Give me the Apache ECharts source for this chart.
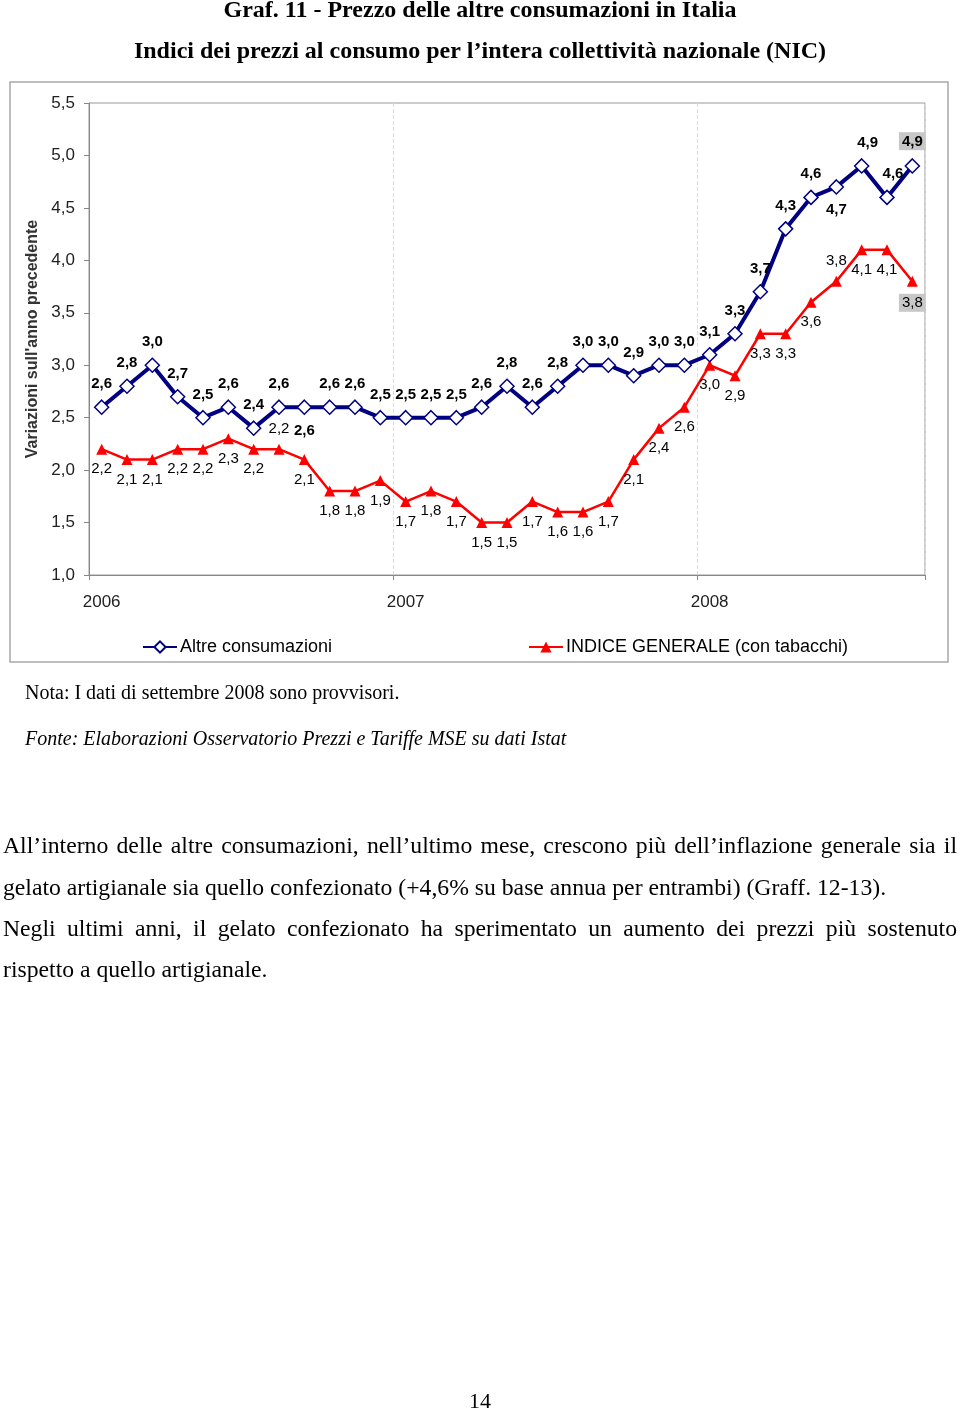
<!DOCTYPE html>
<html><head><meta charset="utf-8">
<script src="https://cdn.jsdelivr.net/npm/echarts@6/dist/echarts.min.js"></script>
<style>
html,body{margin:0;padding:0;background:#fff;}
#chart{position:absolute;left:0;top:0;width:960px;height:1410px;}
.line{position:absolute;left:3px;width:954px;font-family:"Liberation Serif","Times New Roman",serif;font-size:23.7px;color:#000;height:30px;line-height:30px;white-space:nowrap;}
.j{text-align:justify;text-align-last:justify;white-space:normal;}
</style>
</head><body>
<div id="chart"></div>
<div class="line j" style="top:830px">All’interno delle altre consumazioni, nell’ultimo mese, crescono più dell’inflazione generale sia il</div>
<div class="line" style="top:872px">gelato artigianale sia quello confezionato (+4,6% su base annua per entrambi) (Graff. 12-13).</div>
<div class="line j" style="top:913px">Negli ultimi anni, il gelato confezionato ha sperimentato un aumento dei prezzi più sostenuto</div>
<div class="line" style="top:954px">rispetto a quello artigianale.</div>
<script>
const months = ['2006-01','2006-02','2006-03','2006-04','2006-05','2006-06','2006-07','2006-08','2006-09','2006-10','2006-11','2006-12',
  '2007-01','2007-02','2007-03','2007-04','2007-05','2007-06','2007-07','2007-08','2007-09','2007-10','2007-11','2007-12',
  '2008-01','2008-02','2008-03','2008-04','2008-05','2008-06','2008-07','2008-08','2008-09'];
const altreConsumazioni = [2.6,2.8,3.0,2.7,2.5,2.6,2.4,2.6,2.6,2.6,2.6,2.5,2.5,2.5,2.5,2.6,2.8,2.6,2.8,3.0,3.0,2.9,3.0,3.0,3.1,3.3,3.7,4.3,4.6,4.7,4.9,4.6,4.9];
const indiceGenerale = [2.2,2.1,2.1,2.2,2.2,2.3,2.2,2.2,2.1,1.8,1.8,1.9,1.7,1.8,1.7,1.5,1.5,1.7,1.6,1.6,1.7,2.1,2.4,2.6,3.0,2.9,3.3,3.3,3.6,3.8,4.1,4.1,3.8];
const seriesNames = ['Altre consumazioni','INDICE GENERALE (con tabacchi)'];
const yMin = 1.0, yMax = 5.5, yStep = 0.5;

const fmt = v => Number(v).toFixed(1).replace('.', ',');
const blueBelow = [8, 29];
const redAbove = [7, 29];
const last = months.length - 1;

const blueData = altreConsumazioni.map((v, i) => {
  const it = { value: v };
  const lab = {};
  if (blueBelow.includes(i)) lab.position = 'bottom';
  if (i === 30 || i === 31) lab.offset = [6, 0];
  if (i === last) { lab.backgroundColor = '#c8c8c8'; lab.padding = [2, 3, 1, 3]; }
  if (Object.keys(lab).length) it.label = lab;
  return it;
});
const redData = indiceGenerale.map((v, i) => {
  const it = { value: v };
  const lab = {};
  if (redAbove.includes(i)) lab.position = 'top';
  if (i === last) { lab.backgroundColor = '#c8c8c8'; lab.padding = [2, 3, 1, 3]; }
  if (Object.keys(lab).length) it.label = lab;
  return it;
});

const chart = echarts.init(document.getElementById('chart'), null, { renderer: 'canvas' });
const serif = '"Liberation Serif","Times New Roman",serif';
const sans = '"Liberation Sans",Arial,sans-serif';
chart.setOption({
  animation: false,
  backgroundColor: '#fff',
  title: [
    { text: 'Graf. 11 - Prezzo delle altre consumazioni in Italia', left: 'center', top: -6,
      textStyle: { fontFamily: serif, fontWeight: 'bold', fontSize: 24, color: '#000' } },
    { text: 'Indici dei prezzi al consumo per l’intera collettività nazionale (NIC)', left: 'center', top: 35,
      textStyle: { fontFamily: serif, fontWeight: 'bold', fontSize: 24, color: '#000' } },
    { text: 'Nota: I dati di settembre 2008 sono provvisori.', left: 20, top: 679,
      textStyle: { fontFamily: serif, fontWeight: 'normal', fontSize: 20, color: '#000' } },
    { text: 'Fonte: Elaborazioni Osservatorio Prezzi e Tariffe MSE su dati Istat', left: 20, top: 725,
      textStyle: { fontFamily: serif, fontWeight: 'normal', fontStyle: 'italic', fontSize: 20, color: '#000' } },
    { text: '14', left: 'center', top: 1386,
      textStyle: { fontFamily: serif, fontWeight: 'normal', fontSize: 22, color: '#000' } }
  ],
  graphic: [
    { type: 'rect', shape: { x: 10, y: 82, width: 938, height: 580 },
      style: { fill: 'none', stroke: '#a8a8a8', lineWidth: 1.5 }, z: -1 }
  ],
  legend: [
    { data: [seriesNames[0]], left: 142, top: 638, padding: 0, itemWidth: 34, itemHeight: 14, itemGap: 4,
      textStyle: { fontFamily: sans, fontSize: 18, color: '#000', padding: [0, 0, 0, -2] } },
    { data: [seriesNames[1]], left: 528, top: 638, padding: 0, itemWidth: 34, itemHeight: 14, itemGap: 4,
      textStyle: { fontFamily: sans, fontSize: 18, color: '#000', padding: [0, 0, 0, -2] } }
  ],
  grid: { left: 89, right: 35, top: 103, bottom: 835, show: true, borderColor: '#999', borderWidth: 1 },
  xAxis: {
    type: 'category', data: months, boundaryGap: true,
    axisLine: { lineStyle: { color: '#888', width: 1 } },
    axisTick: { show: true, interval: 11, length: 5, lineStyle: { color: '#888' } },
    splitLine: { show: true, interval: 11, lineStyle: { color: '#ddd', type: 'dashed' } },
    axisLabel: { interval: 11, margin: 19, fontFamily: sans, fontSize: 17, color: '#222',
      formatter: v => v.slice(0, 4) }
  },
  yAxis: {
    type: 'value', min: yMin, max: yMax, interval: yStep,
    name: "Variazioni sull'anno precedente", nameLocation: 'middle', nameGap: 47, nameRotate: 90,
    nameTextStyle: { fontFamily: sans, fontSize: 16, fontWeight: 'bold', color: '#333' },
    axisLine: { show: true, lineStyle: { color: '#888' } },
    axisTick: { show: true, length: 5, lineStyle: { color: '#888' } },
    splitLine: { show: false },
    axisLabel: { margin: 14, fontFamily: sans, fontSize: 17, color: '#222', formatter: v => fmt(v) }
  },
  series: [
    { name: seriesNames[0], type: 'line', data: blueData, z: 3,
      symbol: 'diamond', symbolSize: 14,
      lineStyle: { color: '#000080', width: 4 },
      itemStyle: { color: '#fff', borderColor: '#000080', borderWidth: 1.5 },
      label: { show: true, position: 'top', distance: 8, formatter: p => fmt(p.value),
        fontFamily: sans, fontSize: 15, fontWeight: 'bold', color: '#000' } },
    { name: seriesNames[1], type: 'line', data: redData, z: 2,
      symbol: 'triangle', symbolSize: 11,
      lineStyle: { color: '#ff0000', width: 2.5 },
      itemStyle: { color: '#ff0000', borderColor: '#ff0000', borderWidth: 0 },
      label: { show: true, position: 'bottom', distance: 7, formatter: p => fmt(p.value),
        fontFamily: sans, fontSize: 15, fontWeight: 'normal', color: '#000' } }
  ]
});
</script>
</body></html>
